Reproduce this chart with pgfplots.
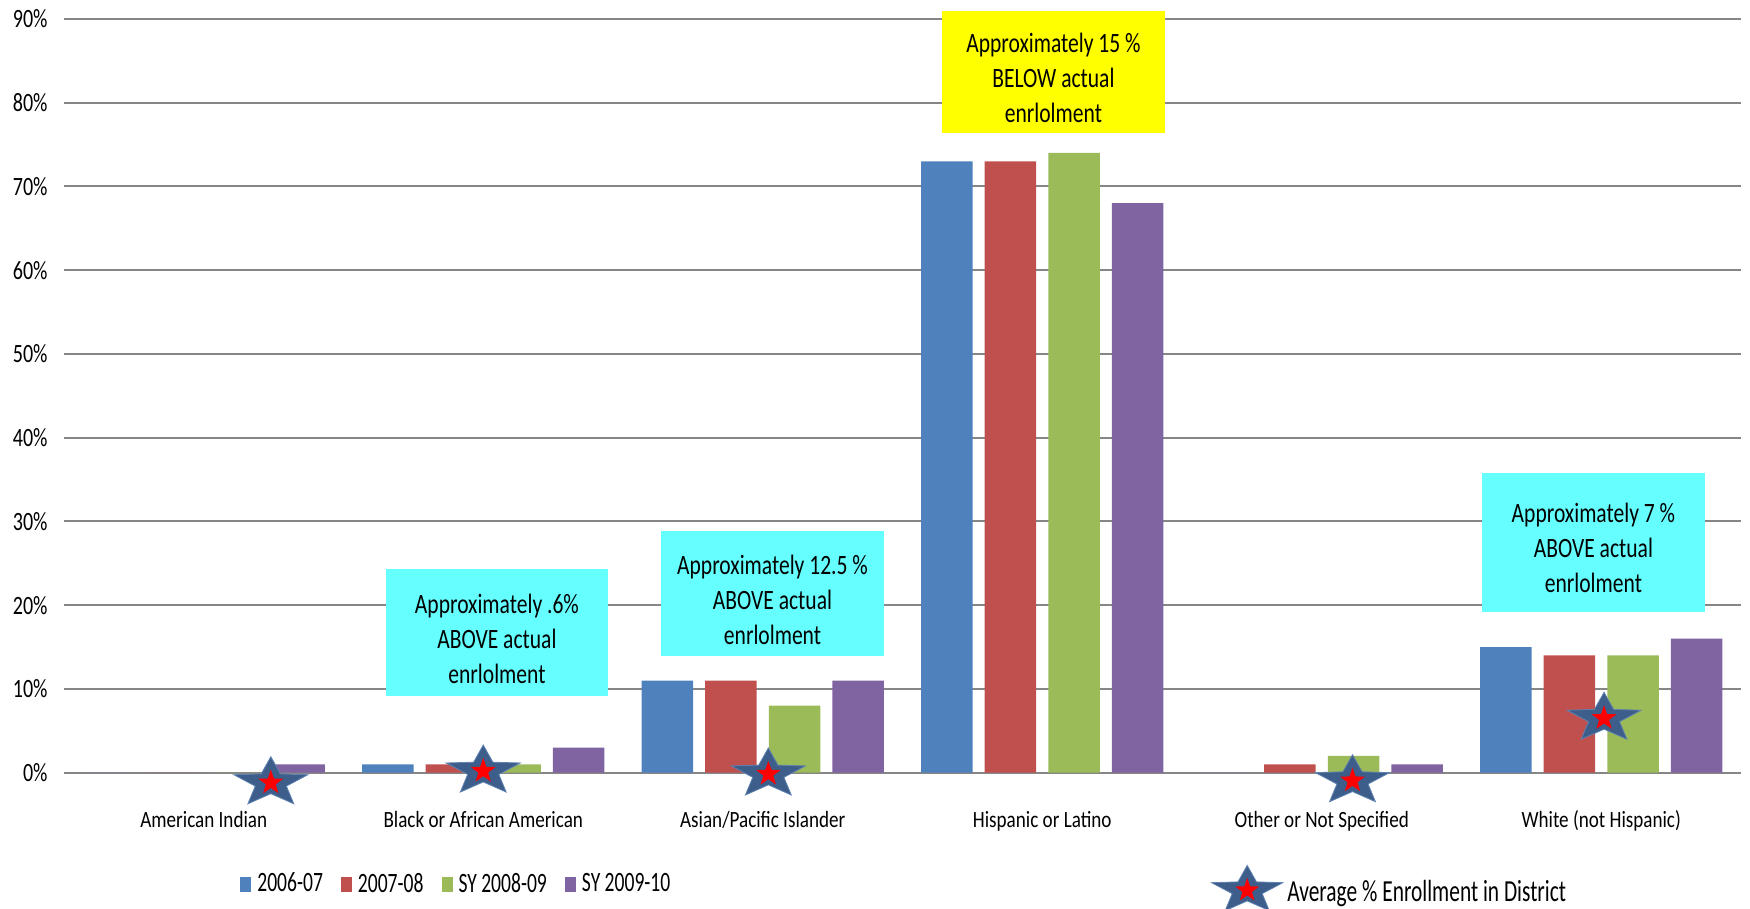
\documentclass[border=0pt]{standalone}
\usepackage{pgfplots}
\pgfplotsset{compat=1.18}
\usepackage{fontspec}
\setmainfont{Carlito}
\newfontfamily\tickfont[FakeStretch=0.76]{Carlito}
\newfontfamily\catfont[FakeStretch=0.82]{Carlito}
\newfontfamily\boxfont[FakeStretch=0.77]{Carlito}
\newfontfamily\legfont[FakeStretch=0.70]{Carlito}

\definecolor{barblue}{HTML}{4F81BD}
\definecolor{barred}{HTML}{C0504D}
\definecolor{bargreen}{HTML}{9BBB59}
\definecolor{barpurple}{HTML}{8064A2}
\definecolor{gridgray}{HTML}{868686}
\definecolor{boxcyan}{HTML}{66FFFF}
\definecolor{boxyellow}{HTML}{FFFF00}
\definecolor{starblue}{HTML}{3D5E8B}
\definecolor{staredge}{HTML}{5F82B0}

% filled star, stretched sideways, with a small red star inside
\pgfdeclareplotmark{avgstar}{%
  \begin{pgfscope}
    \pgftransformxscale{1.5}%
    \pgfsetfillcolor{starblue}\pgfsetstrokecolor{staredge}\pgfsetlinewidth{0.4pt}%
    \pgfpathmoveto{\pgfpointpolar{90}{\pgfplotmarksize}}%
    \pgfpathlineto{\pgfpointpolar{126}{0.42\pgfplotmarksize}}%
    \pgfpathlineto{\pgfpointpolar{162}{\pgfplotmarksize}}%
    \pgfpathlineto{\pgfpointpolar{198}{0.42\pgfplotmarksize}}%
    \pgfpathlineto{\pgfpointpolar{234}{\pgfplotmarksize}}%
    \pgfpathlineto{\pgfpointpolar{270}{0.42\pgfplotmarksize}}%
    \pgfpathlineto{\pgfpointpolar{306}{\pgfplotmarksize}}%
    \pgfpathlineto{\pgfpointpolar{342}{0.42\pgfplotmarksize}}%
    \pgfpathlineto{\pgfpointpolar{18}{\pgfplotmarksize}}%
    \pgfpathlineto{\pgfpointpolar{54}{0.42\pgfplotmarksize}}%
    \pgfpathclose
    \pgfusepath{fill,stroke}%
  \end{pgfscope}
  \begin{pgfscope}
    \pgfsetfillcolor{red}%
    \pgfpathmoveto{\pgfpointpolar{90}{0.5\pgfplotmarksize}}%
    \pgfpathlineto{\pgfpointpolar{126}{0.2\pgfplotmarksize}}%
    \pgfpathlineto{\pgfpointpolar{162}{0.5\pgfplotmarksize}}%
    \pgfpathlineto{\pgfpointpolar{198}{0.2\pgfplotmarksize}}%
    \pgfpathlineto{\pgfpointpolar{234}{0.5\pgfplotmarksize}}%
    \pgfpathlineto{\pgfpointpolar{270}{0.2\pgfplotmarksize}}%
    \pgfpathlineto{\pgfpointpolar{306}{0.5\pgfplotmarksize}}%
    \pgfpathlineto{\pgfpointpolar{342}{0.2\pgfplotmarksize}}%
    \pgfpathlineto{\pgfpointpolar{18}{0.5\pgfplotmarksize}}%
    \pgfpathlineto{\pgfpointpolar{54}{0.2\pgfplotmarksize}}%
    \pgfpathclose
    \pgfusepath{fill}%
  \end{pgfscope}
}

\begin{document}
\begin{tikzpicture}
\begin{axis}[
  at={(0,0)}, anchor=south west,
  width=838.5pt, height=376.85pt, scale only axis,
  xmin=-0.5, xmax=5.5, ymin=0, ymax=90,
  clip=false,
  axis line style={draw=none},
  ymajorgrids, major grid style={color=gridgray, line width=1pt},
  major tick length=0pt,
  ytick={0,10,...,90},
  yticklabels={0\%,10\%,20\%,30\%,40\%,50\%,60\%,70\%,80\%,90\%},
  yticklabel style={font=\tickfont\fontsize{13.2}{15}\selectfont, anchor=east, xshift=-4.7pt},
  xtick={0,1,2,3,4,5},
  xticklabels={American Indian, Black or African American, Asian/Pacific Islander,
    Hispanic or Latino, Other or Not Specified, White (not Hispanic)},
  xticklabel style={font=\catfont\fontsize{11.65}{14}\selectfont, anchor=base, yshift=-27.4pt},
  ybar, bar width=0.184,
  legend image code/.code={\fill[#1] (0pt,-3.75pt) rectangle (5.5pt,3.75pt);},
  legend style={draw=none, fill=none, inner sep=0pt, legend columns=4,
    font=\legfont\fontsize{14}{16}\selectfont,
    at={(0.1049,-0.1477)}, anchor=west,
    /tikz/every odd column/.append style={column sep=1pt},
    /tikz/every even column/.append style={column sep=7pt}},
]
\addplot[fill=barblue, draw=none, bar shift=-0.341] coordinates {(0,0) (1,1) (2,11) (3,73) (4,0) (5,15)};
\addplot[fill=barred, draw=none, bar shift=-0.114] coordinates {(0,0) (1,1) (2,11) (3,73) (4,1) (5,14)};
\addplot[fill=bargreen, draw=none, bar shift=0.114] coordinates {(0,0) (1,1) (2,8) (3,74) (4,2) (5,14)};
\addplot[fill=barpurple, draw=none, bar shift=0.341] coordinates {(0,1) (1,3) (2,11) (3,68) (4,1) (5,16)};
\legend{2006-07, 2007-08, SY 2008-09, SY 2009-10}

\node[fill=boxyellow, minimum width=111.5pt, minimum height=61.2pt, inner sep=0pt] at (axis cs:3.040,83.64) {};
\node[align=center, font=\boxfont\fontsize{14}{17.5}\selectfont, yshift=-3pt] at (axis cs:3.040,83.64)
  {Approximately 15 \%\\BELOW actual\\enrlolment};
\node[fill=boxcyan, minimum width=110.9pt, minimum height=63.3pt, inner sep=0pt] at (axis cs:1.049,16.75) {};
\node[align=center, font=\boxfont\fontsize{14}{17.5}\selectfont, yshift=-3pt] at (axis cs:1.049,16.75)
  {Approximately .6\%\\ABOVE actual\\enrlolment};
\node[fill=boxcyan, minimum width=111.5pt, minimum height=62.3pt, inner sep=0pt] at (axis cs:2.035,21.41) {};
\node[align=center, font=\boxfont\fontsize{14}{17.5}\selectfont, yshift=-3pt] at (axis cs:2.035,21.41)
  {Approximately 12.5 \%\\ABOVE actual\\enrlolment};
\node[fill=boxcyan, minimum width=111.5pt, minimum height=69.5pt, inner sep=0pt] at (axis cs:4.972,27.52) {};
\node[align=center, font=\boxfont\fontsize{14}{17.5}\selectfont, yshift=-3pt] at (axis cs:4.972,27.52)
  {Approximately 7 \%\\ABOVE actual\\enrlolment};
\end{axis}

\begin{axis}[
  at={(0,0)}, anchor=south west,
  width=838.5pt, height=376.85pt, scale only axis,
  xmin=-0.5, xmax=5.5, ymin=0, ymax=90,
  hide axis, clip=false,
  legend image post style={mark size=12.5pt, yshift=1pt},
  legend style={draw=none, fill=none, inner sep=0pt,
    font=\legfont\fontsize{15.3}{17}\selectfont,
    at={(0.6838,-0.1530)}, anchor=west},
]
\addplot[only marks, mark=avgstar, mark size=13pt] coordinates {(0.24,-1.2) (1.0,0.2) (2.02,-0.15) (4.11,-0.95) (5.01,6.5)};
\addlegendentry{Average \% Enrollment in District}
\end{axis}

\pgfresetboundingbox
\path[use as bounding box] (-32pt,-68.15pt) rectangle (843pt,386.35pt);
\end{tikzpicture}
\end{document}
